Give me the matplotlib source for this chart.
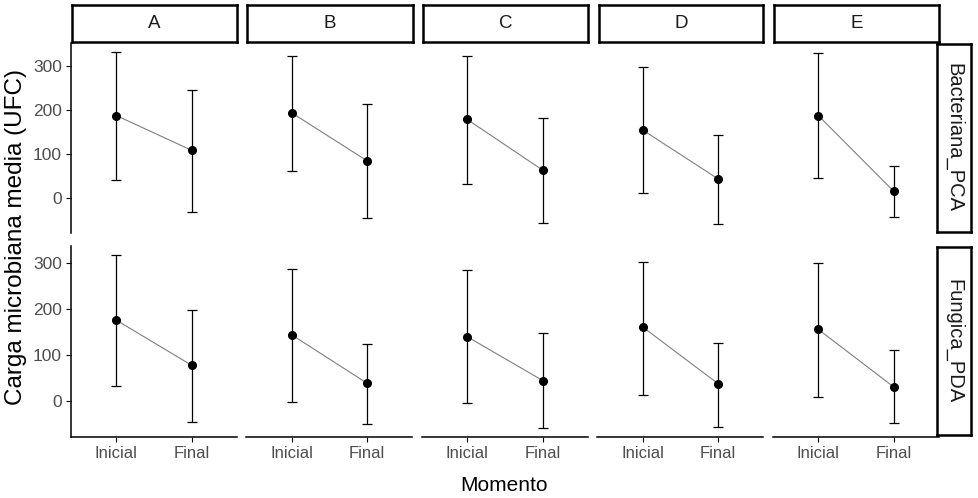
import matplotlib
matplotlib.use("Agg")
import matplotlib.pyplot as plt

plt.rcParams['font.family'] = ['Liberation Sans', 'DejaVu Sans']

groups = ["A", "B", "C", "D", "E"]
rows = ["Bacteriana_PCA", "Fungica_PDA"]
moments = ["Inicial", "Final"]

# means and error bar bounds, per row -> per group -> [Inicial, Final]
bac_mean = [[188, 109], [194, 85], [179, 64], [155, 44], [188, 16]]
bac_low = [[41, -30], [61, -45], [32, -57], [12, -59], [46, -43]]
bac_high = [[333, 246], [322, 214], [322, 182], [298, 144], [331, 74]]

fun_mean = [[175, 77], [143, 38], [139, 44], [160, 37], [155, 30]]
fun_low = [[32, -46], [-3, -51], [-5, -59], [13, -56], [9, -49]]
fun_high = [[317, 197], [287, 123], [283, 147], [302, 126], [299, 110]]

data = [(bac_mean, bac_low, bac_high), (fun_mean, fun_low, fun_high)]
yticks = [0, 100, 200, 300]

W, H = 979, 498
fig = plt.figure(figsize=(W / 100, H / 100), dpi=100)

def fx(px):
    return px / W

def fy(py):
    return 1 - py / H

panel_x0 = [71 + i * 175.5 for i in range(5)]
panel_w = 166
row_y = [(43, 233), (246, 436.7)]

tick_color = "#4D4D4D"
for r in range(2):
    means, lows, highs = data[r]
    top, bot = row_y[r]
    share = None
    for g in range(5):
        ax = fig.add_axes([fx(panel_x0[g]), fy(bot), fx(panel_w), (bot - top) / H],
                          sharey=share)
        if share is None:
            share = ax
        xs = list(range(len(moments)))
        m = means[g]
        lo = [m[k] - lows[g][k] for k in range(2)]
        hi = [highs[g][k] - m[k] for k in range(2)]
        ax.plot(xs, m, color="#7F7F7F", lw=0.8, zorder=2)
        ax.errorbar(xs, m, yerr=[lo, hi], fmt="none", ecolor="black",
                    elinewidth=0.9, capsize=3.6, capthick=0.9, zorder=3)
        ax.plot(xs, m, "o", color="black", ms=5.5, zorder=4)
        ax.set_xlim(-0.6, 1.6)
        ax.set_xticks(xs)
        ax.set_yticks(yticks)
        for s in ["top", "right"]:
            ax.spines[s].set_visible(False)
        ax.spines["left"].set_visible(g == 0)
        ax.spines["bottom"].set_visible(r == 1)
        ax.spines["left"].set_linewidth(1.1)
        ax.spines["bottom"].set_linewidth(1.1)
        ax.tick_params(axis="both", direction="out", length=3.5, width=0.8,
                       colors="black", labelcolor=tick_color, labelsize=12.5, pad=3)
        if g == 0:
            ax.set_yticklabels([str(t) for t in yticks])
        else:
            ax.tick_params(axis="y", left=False, labelleft=False)
        if r == 1:
            ax.set_xticklabels(moments)
            ax.tick_params(axis="x", labelsize=12)
        else:
            ax.tick_params(axis="x", bottom=False, labelbottom=False)
        ax.patch.set_alpha(0)

        # top strips
        if r == 0:
            sa = fig.add_axes([fx(panel_x0[g] + 1), fy(42.5), fx(panel_w - 1), 37.5 / H])
            sa.set_xticks([]); sa.set_yticks([])
            for s in sa.spines.values():
                s.set_linewidth(1.8)
                s.set_color("black")
            sa.text(0.5, 0.5, groups[g], ha="center", va="center", fontsize=13.5,
                    color="#1A1A1A", transform=sa.transAxes)
    # right strips
    ra = fig.add_axes([fx(937.5), fy(bot - 1.5), fx(33.5), (bot - 1.5 - top - 1) / H])
    ra.set_xticks([]); ra.set_yticks([])
    for s in ra.spines.values():
        s.set_linewidth(1.8)
        s.set_color("black")
    ra.text(0.5, 0.5, rows[r], ha="center", va="center", rotation=-90, fontsize=14.5,
            color="#1A1A1A", transform=ra.transAxes)

fig.text(fx(504), fy(485), "Momento", ha="center", va="center", fontsize=15)
fig.text(fx(16), fy(237), "Carga microbiana media (UFC)", ha="center", va="center",
         rotation=90, fontsize=17.5)

fig.savefig("out.png", dpi=100)
